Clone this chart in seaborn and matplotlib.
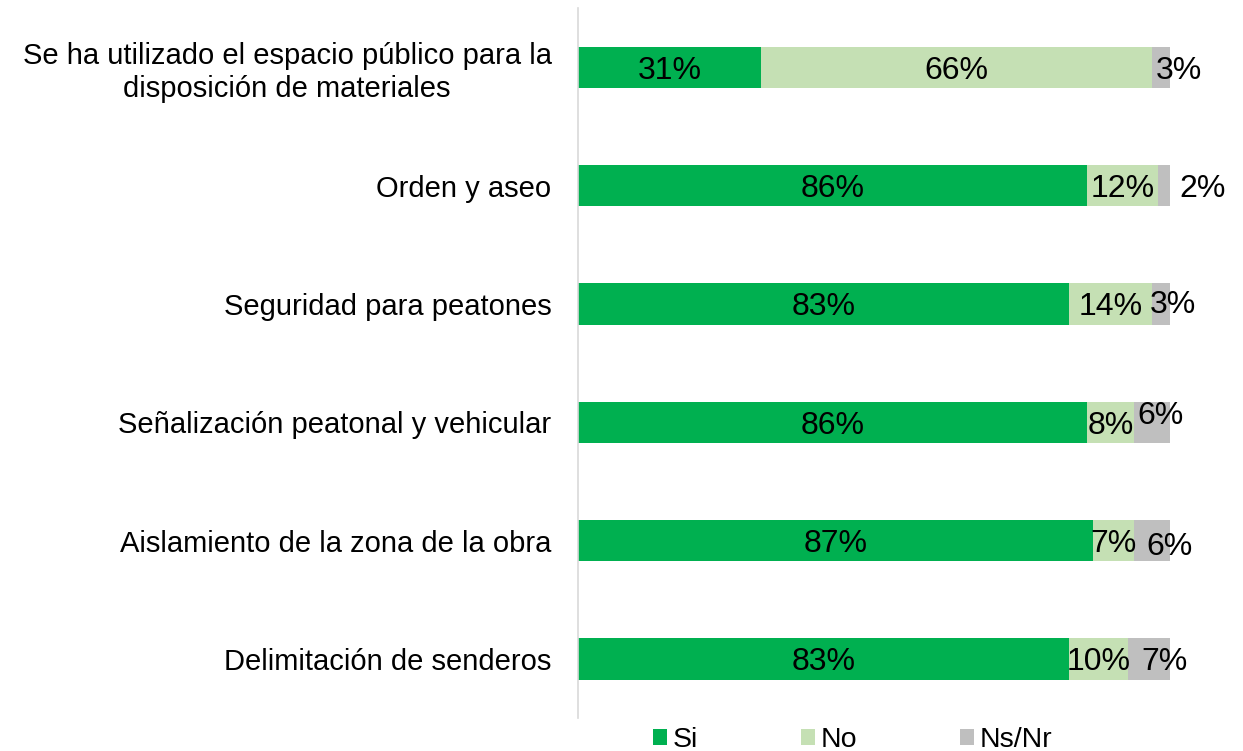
import matplotlib
matplotlib.use("Agg")
import matplotlib.pyplot as plt
from matplotlib.patches import Patch
import seaborn as sns
import pandas as pd

# Data
categories = [
    "Se ha utilizado el espacio público para la\ndisposición de materiales",
    "Orden y aseo",
    "Seguridad para peatones",
    "Señalización peatonal y vehicular",
    "Aislamiento de la zona de la obra",
    "Delimitación de senderos",
]
si = [31, 86, 83, 86, 87, 83]
no = [66, 12, 14, 8, 7, 10]
nsnr = [3, 2, 3, 6, 6, 7]
series_names = ["Si", "No", "Ns/Nr"]
colors = ["#00B050", "#C5E0B4", "#BFBFBF"]

# manual nudges (in points) of the Ns/Nr labels, as in the original
nsnr_dx = [13, 28, 9, 6, 13, 11]
nsnr_dy = [0, 0, 2, 7, -2, 0]

sns.set_style("white")
plt.rcParams["font.family"] = ["Liberation Sans", "DejaVu Sans"]
plt.rcParams["text.color"] = "black"

df = pd.DataFrame({"cat": categories, "Si": si, "No": no, "Ns/Nr": nsnr})
df["c1"] = df["Si"]
df["c2"] = df["Si"] + df["No"]
df["c3"] = df["c2"] + df["Ns/Nr"]

fig, ax = plt.subplots(figsize=(12.43, 7.51), dpi=100)
fig.subplots_adjust(left=0.465, right=0.941, top=0.989, bottom=0.044)

# stacked bars by drawing cumulative totals from largest to smallest
for col, c in zip(["c3", "c2", "c1"], colors[::-1]):
    sns.barplot(data=df, x=col, y="cat", color=c, width=0.35,
                orient="h", ax=ax, saturation=1, linewidth=0)

ax.set_xlim(0, 100)
ax.set_ylim(5.5, -0.5)
ax.set_xlabel("")
ax.set_ylabel("")
ax.set_xticks([])
for s in ["top", "right", "bottom"]:
    ax.spines[s].set_visible(False)
ax.spines["left"].set_color("#D9D9D9")
ax.spines["left"].set_linewidth(1.2)
ax.tick_params(axis="y", length=0, pad=19, labelsize=21, labelcolor="black")
for t in ax.get_yticklabels():
    t.set_multialignment("center")

# value labels
for i in range(len(categories)):
    ax.annotate(f"{si[i]}%", (si[i] / 2, i), ha="center",
                va="center_baseline", fontsize=23, color="black")
    ax.annotate(f"{no[i]}%", (si[i] + no[i] / 2, i), ha="center",
                va="center_baseline", fontsize=23, color="black")
    ax.annotate(f"{nsnr[i]}%", (si[i] + no[i] + nsnr[i] / 2, i),
                xytext=(nsnr_dx[i], nsnr_dy[i]), textcoords="offset points",
                ha="center", va="center_baseline", fontsize=23, color="black")

handles = [Patch(facecolor=c, edgecolor="none") for c in colors]
fig.legend(handles, series_names, loc="center", bbox_to_anchor=(0.686, 0.015),
           ncol=3, frameon=False, fontsize=20.5, handlelength=0.5,
           handleheight=0.5, handletextpad=0.2, columnspacing=3.6)

fig.savefig("out.png", dpi=100)
